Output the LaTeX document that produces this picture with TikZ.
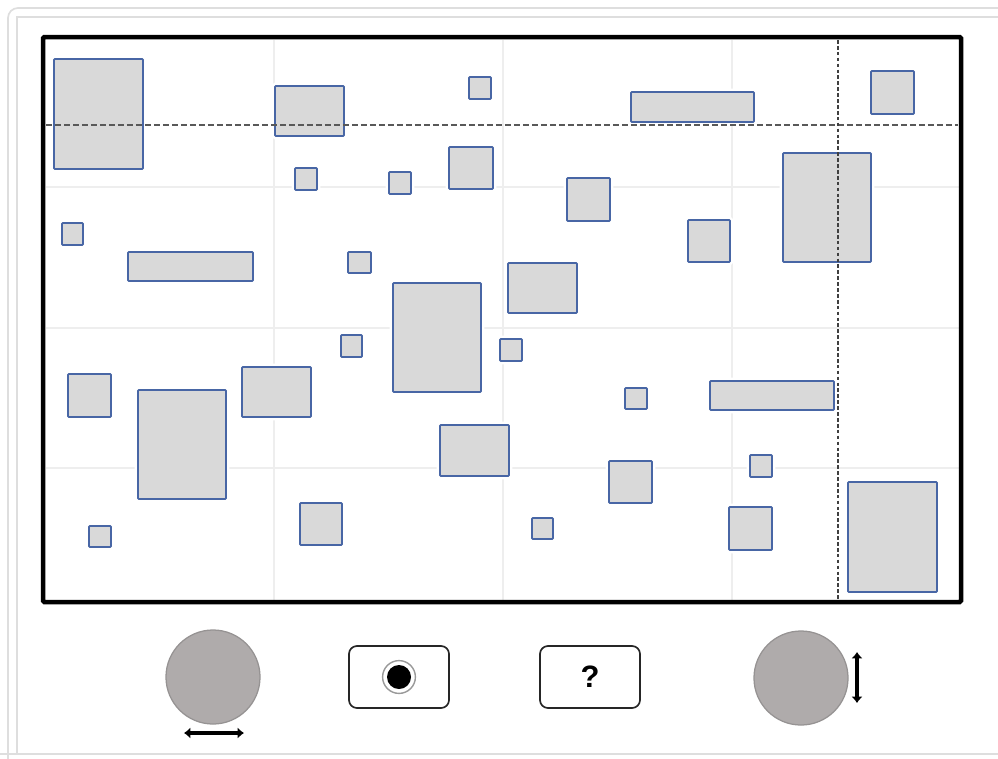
\documentclass[tikz,border=0pt]{standalone}
\usepackage{fontspec}
\setmainfont{Liberation Sans}
\usetikzlibrary{arrows.meta,positioning}
\definecolor{boxline}{RGB}{72,102,165}
\definecolor{boxfill}{RGB}{217,217,217}
\definecolor{gridgray}{RGB}{238,238,238}
\definecolor{panelgray}{RGB}{222,222,222}
\definecolor{knobgray}{RGB}{175,171,171}
\definecolor{knobedge}{RGB}{150,147,147}
\begin{document}
\begin{tikzpicture}[x=0.025cm,y=-0.025cm,
  blk/.style={draw=boxline,fill=boxfill,line width=1.3pt,rounded corners=0.6pt,preaction={draw=white,line width=4.8pt}},
  gridline/.style={draw=gridgray,line width=2pt},
  guide/.style={draw=black!65,line width=1.3pt,dash pattern=on 4.2pt off 2.2pt},
  guidev/.style={draw=black!75,line width=1.5pt,dash pattern=on 2.6pt off 1.6pt},
  panel/.style={draw=panelgray,line width=1.2pt},
  knob/.style={circle,fill=knobgray,draw=knobedge,line width=0.9pt,minimum size=2.35cm,inner sep=0pt},
  btn/.style={draw=black!85,line width=1.2pt,rounded corners=0.2cm,minimum width=2.5cm,minimum height=1.55cm,inner sep=0pt},
  dbl/.style={{Latex[length=4.5pt,width=8pt]}-{Latex[length=4.5pt,width=8pt]},line width=2.6pt}]
\useasboundingbox (0,0) rectangle (998,758);
\clip (0,0) rectangle (998,758);
% panel outline
\draw[panel,rounded corners=0.25cm] (8,770) -- (8,8) -- (1010,8);
\draw[panel] (17,754) -- (17,17) -- (1010,17);
\draw[panel] (0,754) -- (998,754);
% grid
\foreach \gx in {274,503,732} \draw[gridline] (\gx,40) -- (\gx,600);
\foreach \gy in {187,328,468} \draw[gridline] (46,\gy) -- (959,\gy);
% boxes
\foreach \xa/\ya/\xb/\yb in {54/59/143/169, 275/86/344/136, 469/77/491/99, 631/92/754/122,
  871/71/914/114, 295/168/317/190, 389/172/411/194, 449/147/493/189, 567/178/610/221,
  783/153/871/262, 62/223/83/245, 128/252/253/281, 348/252/371/273, 688/220/730/262,
  508/263/577/313, 393/283/481/392, 341/335/362/357, 500/339/522/361, 68/374/111/417,
  138/390/226/499, 242/367/311/417, 625/388/647/409, 710/381/834/410, 440/425/509/476,
  750/455/772/477, 609/461/652/503, 89/526/111/547, 300/503/342/545, 532/518/553/539,
  729/507/772/550, 848/482/937/592}
  \draw[blk] (\xa,\ya) rectangle (\xb,\yb);
% guides
\draw[guide] (46,125) -- (958,125);
\draw[guidev] (838,40) -- (838,600);
% frame
\draw[line width=3.2pt,rounded corners=1pt] (43,37) rectangle (961,602);
% controls
\node[knob] (panL) at (213,677) {};
\node[btn] (rec) at (399,677) {};
\node[circle,draw=black!40,line width=1pt,minimum size=0.82cm,inner sep=0pt] (recring) at (rec.center) {};
\node[circle,fill=black,minimum size=0.6cm,inner sep=0pt] (recdot) at (rec.center) {};
\node[btn,font=\fontsize{22}{22}\selectfont\bfseries] (help) at (590,677) {\raisebox{-2pt}{?}};
\node[knob] (panR) at (801,678) {};
\coordinate (panLa) at (184,733);
\coordinate (panLb) at (244,733);
\draw[dbl] (panLa) -- (panLb);
\coordinate (panRa) at (857,652);
\coordinate (panRb) at (857,703);
\draw[dbl] (panRa) -- (panRb);
\end{tikzpicture}
\end{document}
